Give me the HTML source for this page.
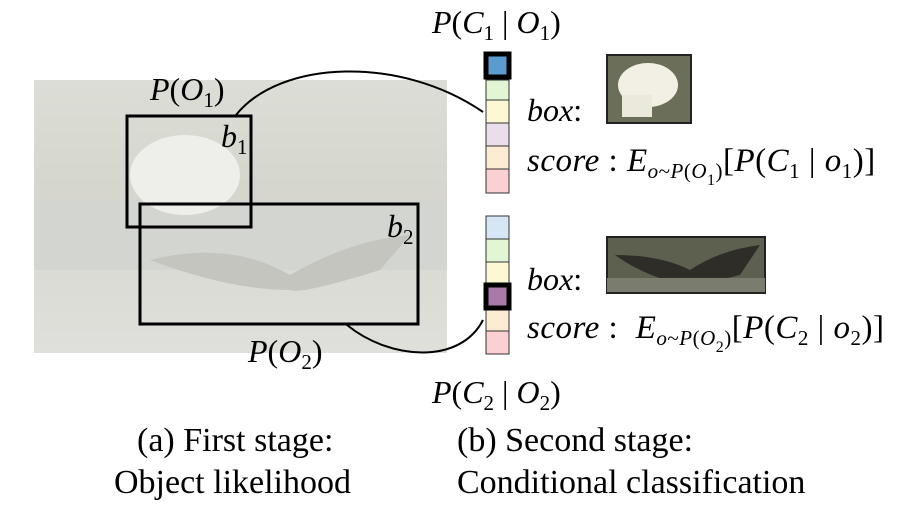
<!DOCTYPE html>
<html><head><style>
body{margin:0;width:912px;height:520px;background:#fff;overflow:hidden;position:relative;font-family:"Liberation Serif",serif;}
.t{position:absolute;font-size:32px;line-height:1;white-space:nowrap;color:#000}
.c{font-size:34px}
.s{font-size:33px;letter-spacing:0.5px}
i{font-style:italic}
sub{font-size:21px;vertical-align:-7px;line-height:0}
sub sub{font-size:16px}
</style></head><body>
<svg width="912" height="520" style="position:absolute;left:0;top:0">
<defs>
<linearGradient id="bg" x1="0" y1="0" x2="0" y2="1">
<stop offset="0" stop-color="#dcddd6"/><stop offset="0.4" stop-color="#d5d6cd"/><stop offset="1" stop-color="#dfe0db"/></linearGradient>
</defs>
<rect x="34" y="80" width="413" height="273" fill="url(#bg)"/>
<rect x="34" y="200" width="413" height="70" fill="#d3d5d0"/>
<ellipse cx="185" cy="175" rx="55" ry="40" fill="#eeeeea"/>
<path d="M150 260 Q230 240 290 275 Q350 240 410 235 L380 270 Q300 295 290 290 Q230 290 150 260Z" fill="#c4c5bf"/>
<rect x="127" y="116" width="124" height="111" fill="none" stroke="#000" stroke-width="3"/>
<rect x="140" y="204" width="278" height="120" fill="none" stroke="#000" stroke-width="3"/>
<path d="M236 115 C280 60 400 55 483 112" fill="none" stroke="#000" stroke-width="2"/>
<path d="M347 325 C390 360 460 365 483 320" fill="none" stroke="#000" stroke-width="2"/>
<g stroke="#333" stroke-width="1">
<rect x="486" y="80" width="23" height="20" fill="#e2f6d3"/>
<rect x="486" y="100" width="23" height="23" fill="#fdf8d4"/>
<rect x="486" y="123" width="23" height="23" fill="#e9dee9"/>
<rect x="486" y="146" width="23" height="23" fill="#fdebd3"/>
<rect x="486" y="169" width="23" height="24" fill="#fbd0d2"/>
<rect x="486" y="216" width="23" height="23" fill="#d6e6f4"/>
<rect x="486" y="239" width="23" height="23" fill="#e2f6d3"/>
<rect x="486" y="262" width="23" height="21" fill="#fdf8d4"/>
<rect x="486" y="310" width="23" height="21" fill="#fdebd3"/>
<rect x="486" y="331" width="23" height="23" fill="#fbd0d2"/>
</g>
<rect x="486" y="54" width="23" height="23" fill="#5b9bd0" stroke="#000" stroke-width="5"/>
<rect x="486" y="285" width="23" height="23" fill="#a979a7" stroke="#000" stroke-width="5"/>
<rect x="607" y="55" width="84" height="68" fill="#6b6e58" stroke="#222" stroke-width="2"/>
<ellipse cx="648" cy="85" rx="30" ry="22" fill="#f2f0e4"/>
<rect x="622" y="95" width="30" height="22" fill="#ebe8dc"/>
<rect x="607" y="237" width="158" height="56" fill="#5e604f" stroke="#222" stroke-width="2"/>
<path d="M615 255 Q660 255 690 270 Q720 250 760 245 L740 275 Q700 285 690 285 Q650 280 615 255Z" fill="#2e2d27"/>
<rect x="607" y="278" width="158" height="14" fill="#7a7d6e"/>
</svg>
<div class="t" style="left:432px;top:6px"><i>P</i>(<i>C</i><sub>1</sub> | <i>O</i><sub>1</sub>)</div>
<div class="t" style="left:150px;top:73px"><i>P</i>(<i>O</i><sub>1</sub>)</div>
<div class="t" style="left:221px;top:120px"><i>b</i><sub>1</sub></div>
<div class="t" style="left:387px;top:210px"><i>b</i><sub>2</sub></div>
<div class="t" style="left:248px;top:335px"><i>P</i>(<i>O</i><sub>2</sub>)</div>
<div class="t" style="left:432px;top:376px"><i>P</i>(<i>C</i><sub>2</sub> | <i>O</i><sub>2</sub>)</div>
<div class="t" style="left:527px;top:94px"><i>box</i>:</div>
<div class="t s" style="left:527px;top:145px"><i>score</i> : <i>E</i><sub><i>o</i>~<i>P</i>(<i>O</i><sub>1</sub>)</sub>[<i>P</i>(<i>C</i><sub>1</sub> | <i>o</i><sub>1</sub>)]</div>
<div class="t" style="left:527px;top:263px"><i>box</i>:</div>
<div class="t s" style="left:527px;top:312px"><i>score</i> : &nbsp;<i>E</i><sub><i>o</i>~<i>P</i>(<i>O</i><sub>2</sub>)</sub>[<i>P</i>(<i>C</i><sub>2</sub> | <i>o</i><sub>2</sub>)]</div>
<div class="t c" style="left:137px;top:424px">(a) First stage:</div>
<div class="t c" style="left:114px;top:466px">Object likelihood</div>
<div class="t c" style="left:457px;top:424px">(b) Second stage:</div>
<div class="t c" style="left:457px;top:466px">Conditional classification</div>
</body></html>
